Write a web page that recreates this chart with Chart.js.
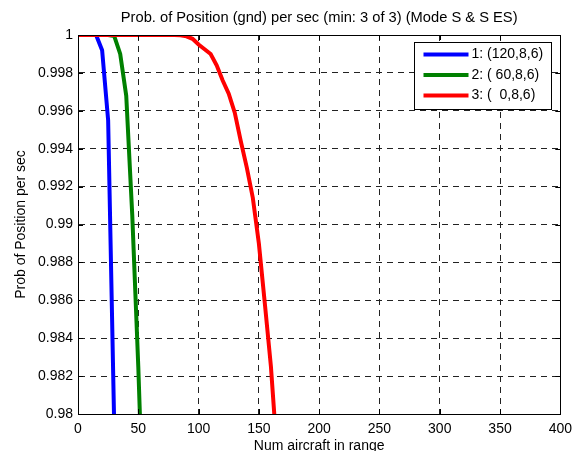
<!DOCTYPE html>
<html>
<head>
<meta charset="utf-8">
<script src="https://cdn.jsdelivr.net/npm/chart.js@4"></script>
<style>
  body { margin: 0; background: #fff; }
</style>
</head>
<body>
<canvas id="myChart" width="579" height="451"></canvas>
<script>
// data
var blueX = [0, 5, 10, 15, 20, 25, 30];
var blueY = [1, 1, 1, 1, 0.9992, 0.9955, 0.9795];

var greenX = [0, 5, 10, 15, 20, 25, 30, 35, 40, 45, 50, 55];
var greenY = [1, 1, 1, 1, 1, 1, 0.99995, 0.999, 0.9968, 0.9905, 0.9825, 0.973];

var redX = [0, 5, 10, 15, 20, 25, 30, 35, 40, 45, 50, 55, 60, 65, 70, 75, 80,
  85, 90, 95, 100, 105, 110, 115, 120, 125, 130, 135, 140, 145, 150, 155, 160, 165];
var redY = [1, 1, 1, 1, 1, 1, 1, 1, 1, 1, 1, 1, 1, 1, 1, 1, 1,
  0.99999, 0.99993, 0.9998, 0.9995, 0.99925, 0.999, 0.9984, 0.9976, 0.9969, 0.9959,
  0.9944, 0.993, 0.9914, 0.989, 0.9858, 0.9825, 0.978];

var seriesLabels = ["1: (120,8,6)", "2: ( 60,8,6)", "3: (  0,8,6)"];
var chartTitle = "Prob. of Position (gnd) per sec (min: 3 of 3) (Mode S & S ES)";

var xTicks = [0, 50, 100, 150, 200, 250, 300, 350, 400];
var yTicks = [0.98, 0.982, 0.984, 0.986, 0.988, 0.99, 0.992, 0.994, 0.996, 0.998, 1];

function toPoints(xs, ys) {
  return xs.map(function (x, i) { return { x: x, y: ys[i] }; });
}

var FONT = "'Liberation Sans', Arial, sans-serif";
Chart.defaults.font.family = FONT;
Chart.defaults.font.size = 14;
Chart.defaults.color = "#000";

// MATLAB style: title over the axes, box, inward ticks and legend
var matlabBox = {
  id: "matlabBox",
  afterDraw: function (chart) {
    var ctx = chart.ctx;
    var a = chart.chartArea;
    var xs = chart.scales.x, ys = chart.scales.y;
    ctx.save();

    ctx.fillStyle = "#000";
    ctx.font = "14.7px " + FONT;
    ctx.textAlign = "center";
    ctx.textBaseline = "alphabetic";
    ctx.fillText(chartTitle, (a.left + a.right) / 2, 22);

    ctx.strokeStyle = "#000";
    ctx.lineWidth = 1;
    ctx.setLineDash([]);
    ctx.beginPath();
    xTicks.forEach(function (v) {
      var px = Math.round(xs.getPixelForValue(v)) + 0.5;
      ctx.moveTo(px, a.bottom); ctx.lineTo(px, a.bottom - 5);
      ctx.moveTo(px, a.top); ctx.lineTo(px, a.top + 5);
    });
    yTicks.forEach(function (v) {
      var py = Math.round(ys.getPixelForValue(v)) + 0.5;
      ctx.moveTo(a.left, py); ctx.lineTo(a.left + 5, py);
      ctx.moveTo(a.right, py); ctx.lineTo(a.right - 5, py);
    });
    ctx.stroke();
    ctx.strokeRect(Math.round(a.left) + 0.5, Math.round(a.top) + 0.5,
      Math.round(a.right - a.left), Math.round(a.bottom - a.top));

    // legend
    var lw = 137, lh = 67;
    var lx = Math.round(a.right) - 9 - lw + 0.5;
    var ly = Math.round(a.top) + 7 + 0.5;
    ctx.fillStyle = "#fff";
    ctx.fillRect(lx, ly, lw, lh);
    ctx.strokeRect(lx, ly, lw, lh);
    ctx.font = "14px " + FONT;
    ctx.textAlign = "left";
    ctx.textBaseline = "middle";
    chart.data.datasets.forEach(function (ds, i) {
      var yy = ly + 12 + i * 20.5;
      ctx.strokeStyle = ds.borderColor;
      ctx.lineWidth = 4;
      ctx.beginPath();
      ctx.moveTo(lx + 9, yy); ctx.lineTo(lx + 54, yy);
      ctx.stroke();
      ctx.fillStyle = "#000";
      ctx.fillText(ds.label, lx + 57, yy);
    });
    ctx.restore();
  }
};

var ctx = document.getElementById("myChart").getContext("2d");
var myChart = new Chart(ctx, {
  type: "line",
  data: {
    datasets: [
      {
        label: seriesLabels[0],
        data: toPoints(blueX, blueY),
        borderColor: "#0000ff",
        borderWidth: 4,
        pointRadius: 0,
        tension: 0,
        order: 2
      },
      {
        label: seriesLabels[1],
        data: toPoints(greenX, greenY),
        borderColor: "#008000",
        borderWidth: 4,
        pointRadius: 0,
        tension: 0,
        order: 1
      },
      {
        label: seriesLabels[2],
        data: toPoints(redX, redY),
        borderColor: "#ff0000",
        borderWidth: 4,
        pointRadius: 0,
        tension: 0,
        order: 0
      }
    ]
  },
  options: {
    responsive: false,
    animation: false,
    layout: {
      padding: { top: 35, left: 13, right: 17, bottom: 0 }
    },
    scales: {
      x: {
        type: "linear",
        min: 0,
        max: 400,
        afterBuildTicks: function (scale) {
          scale.ticks = xTicks.map(function (v) { return { value: v }; });
        },
        afterFit: function (scale) { scale.height = 37; },
        grid: {
          color: "#222",
          lineWidth: 1,
          drawTicks: false
        },
        border: { display: true, color: "#000", width: 1, dash: [6, 5] },
        ticks: { padding: 7, maxRotation: 0 },
        title: {
          display: true,
          text: "Num aircraft in range",
          padding: { top: 0, bottom: -4 }
        }
      },
      y: {
        type: "linear",
        min: 0.98,
        max: 1,
        afterBuildTicks: function (scale) {
          scale.ticks = yTicks.map(function (v) { return { value: v }; });
        },
        afterFit: function (scale) { scale.width = 65; },
        grid: {
          color: "#222",
          lineWidth: 1,
          drawTicks: false
        },
        border: { display: true, color: "#000", width: 1, dash: [6, 5] },
        ticks: {
          padding: 5,
          callback: function (v) { return String(Number(v.toFixed(3))); }
        },
        title: {
          display: true,
          text: "Prob of Position per sec",
          padding: { top: 0, bottom: 0 }
        }
      }
    },
    plugins: {
      legend: { display: false },
      tooltip: { enabled: false },
      title: { display: false }
    }
  },
  plugins: [matlabBox]
});
</script>
</body>
</html>
